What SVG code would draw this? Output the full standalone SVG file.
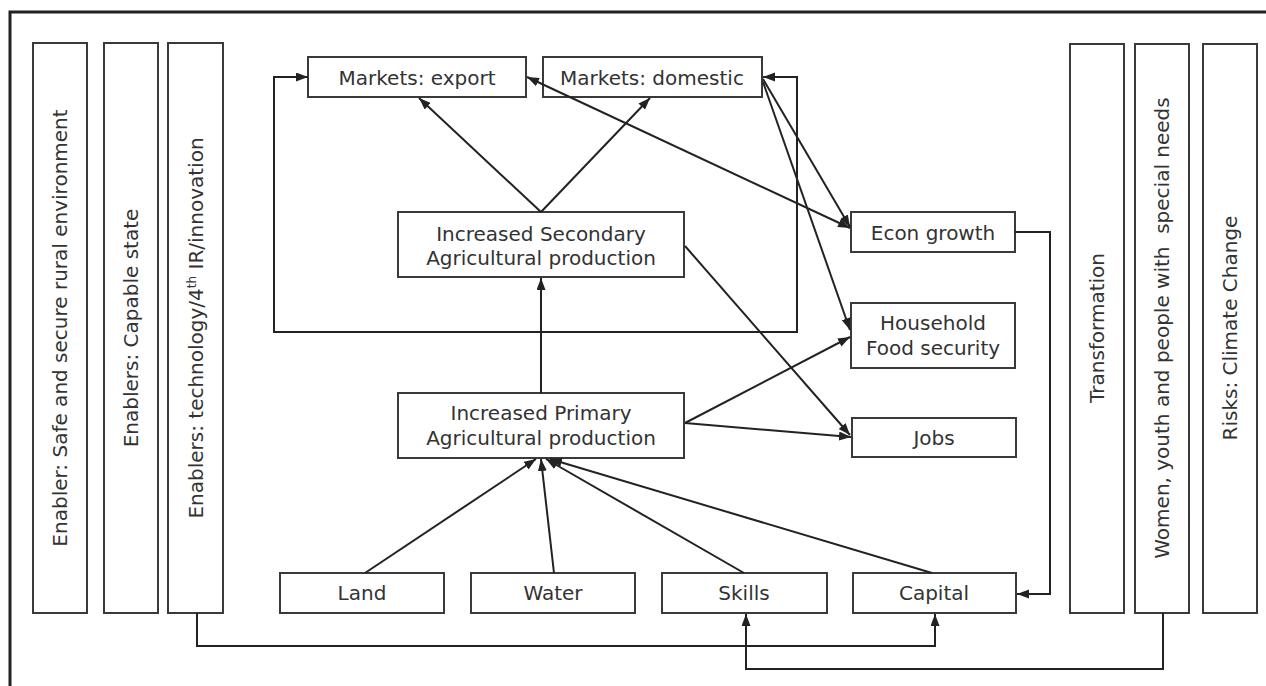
<svg xmlns="http://www.w3.org/2000/svg" width="1266" height="686" viewBox="0 0 1266 686">
<style>
.box{fill:#fff;stroke:#3a3a3a;stroke-width:2}
.t{font-family:"DejaVu Sans","Liberation Sans",sans-serif;font-size:20px;fill:#333;text-anchor:middle}
.c{fill:none;stroke:#222;stroke-width:2}
.a{marker-end:url(#ah)}
.aa{marker-start:url(#ah);marker-end:url(#ah)}
</style>
<defs>
<marker id="ah" markerUnits="userSpaceOnUse" markerWidth="13" markerHeight="10" refX="12" refY="4.5" orient="auto-start-reverse">
<path d="M0,0 L12,4.5 L0,9 z" fill="#222"/>
</marker>
</defs>
<rect width="1266" height="686" fill="#fff"/>
<path d="M10,686 V12 H1266" fill="none" stroke="#222" stroke-width="3"/>

<g id="enabler-safe"><rect class="box" x="33" y="43" width="54" height="570"/><text class="t" transform="translate(67,328) rotate(-90)">Enabler: Safe and secure rural environment</text></g>
<g id="enabler-state"><rect class="box" x="104" y="43" width="54" height="570"/><text class="t" transform="translate(138,328) rotate(-90)">Enablers: Capable state</text></g>
<g id="enabler-tech"><rect class="box" x="168" y="43" width="55" height="570"/><text class="t" transform="translate(203,328) rotate(-90)">Enablers: technology/4<tspan font-size="12" dy="-7">th</tspan><tspan dy="7"> IR/innovation</tspan></text></g>

<g id="transformation"><rect class="box" x="1070" y="44" width="54" height="569"/><text class="t" transform="translate(1104,328) rotate(-90)">Transformation</text></g>
<g id="women"><rect class="box" x="1135" y="44" width="54" height="569"/><text class="t" style="white-space:pre" transform="translate(1169,328) rotate(-90)">Women, youth and people with  special needs</text></g>
<g id="risks"><rect class="box" x="1203" y="44" width="54" height="569"/><text class="t" transform="translate(1237,328) rotate(-90)">Risks: Climate Change</text></g>

<g id="markets-export"><rect class="box" x="308" y="57" width="218" height="40"/><text class="t" x="417" y="85">Markets: export</text></g>
<g id="markets-domestic"><rect class="box" x="543" y="57" width="219" height="40"/><text class="t" x="652" y="85">Markets: domestic</text></g>
<g id="secondary"><rect class="box" x="398" y="212" width="286" height="65"/><text class="t" x="541" y="241">Increased Secondary</text><text class="t" x="541" y="265">Agricultural production</text></g>
<g id="primary"><rect class="box" x="398" y="393" width="286" height="65"/><text class="t" x="541" y="420">Increased Primary</text><text class="t" x="541" y="445">Agricultural production</text></g>
<g id="econ-growth"><rect class="box" x="851" y="212" width="164" height="40"/><text class="t" x="933" y="240">Econ growth</text></g>
<g id="household"><rect class="box" x="851" y="303" width="164" height="65"/><text class="t" x="933" y="330">Household</text><text class="t" x="933" y="355">Food security</text></g>
<g id="jobs"><rect class="box" x="852" y="418" width="164" height="39"/><text class="t" x="934" y="445">Jobs</text></g>
<g id="land"><rect class="box" x="280" y="573" width="164" height="40"/><text class="t" x="362" y="600">Land</text></g>
<g id="water"><rect class="box" x="471" y="573" width="164" height="40"/><text class="t" x="553" y="600">Water</text></g>
<g id="skills"><rect class="box" x="662" y="573" width="165" height="40"/><text class="t" x="744" y="600">Skills</text></g>
<g id="capital"><rect class="box" x="853" y="573" width="163" height="40"/><text class="t" x="934" y="600">Capital</text></g>

<g id="connectors">
<path class="c aa" d="M308,77 H274 V332 H797 V77 H763"/>
<path class="c a" d="M541,393 V278"/>
<path class="c a" d="M541,212 L419,98"/>
<path class="c a" d="M541,212 L650,98"/>
<path class="c aa" d="M527,77 L850,228"/>
<path class="c a" d="M763,79 L850,227"/>
<path class="c a" d="M763,82 L850,330"/>
<path class="c a" d="M685,246 L850,435"/>
<path class="c a" d="M685,423 L850,337"/>
<path class="c a" d="M685,423 L851,437"/>
<path class="c a" d="M365,573 L536,459"/>
<path class="c a" d="M554,573 L541,459"/>
<path class="c a" d="M744,573 L546,459"/>
<path class="c a" d="M932,573 L550,459"/>
<path class="c a" d="M1015,232 H1050 V594 H1017"/>
<path class="c a" d="M197,613 V646 H935 V614"/>
<path class="c a" d="M1163,613 V669 H746 V614"/>
</g>
</svg>
